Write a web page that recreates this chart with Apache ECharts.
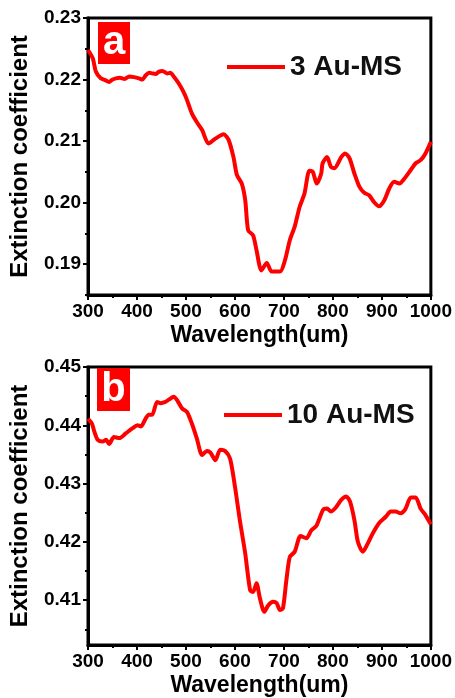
<!DOCTYPE html>
<html><head><meta charset="utf-8">
<script src="https://cdn.jsdelivr.net/npm/echarts@6/dist/echarts.min.js"></script>
<style>html,body{margin:0;padding:0;background:#fff}#c{width:455px;height:698px}</style>
</head><body><div id="c"></div>
<script>
const wavelengthA = [300,310,316,326,335,343,350,357,365,375,384,394,404,411,418,425,431,438,445,452,462,468,475,485,495,502,512,522,533,546,560,577,587,597,604,614,621,627,637,644,654,665,675,692,702,712,722,732,742,752,759,767,776,779,788,796,803,817,825,834,844,854,864,874,884,894,905,915,925,936,945,959,969,979,989,1000];
const valuesA = [0.2248,0.2234,0.2213,0.2202,0.2199,0.2196,0.2200,0.2202,0.2203,0.2201,0.2205,0.2204,0.2202,0.2200,0.2207,0.2211,0.2210,0.2209,0.2213,0.2214,0.2210,0.2211,0.2205,0.2194,0.2180,0.2167,0.2145,0.2131,0.2118,0.2096,0.2104,0.2111,0.2102,0.2074,0.2045,0.2031,0.2004,0.1955,0.1947,0.1923,0.1890,0.1902,0.1888,0.1888,0.1906,0.1939,0.1961,0.1993,0.2015,0.2052,0.2050,0.2031,0.2047,0.2064,0.2074,0.2058,0.2056,0.2074,0.2080,0.2072,0.2047,0.2026,0.2016,0.2012,0.2001,0.1994,0.2004,0.2023,0.2034,0.2031,0.2038,0.2053,0.2064,0.2069,0.2080,0.2099];
const wavelengthB = [300,308,313,320,330,337,343,353,364,377,391,401,408,418,424,431,441,448,458,465,475,482,492,502,512,522,533,543,550,560,570,580,590,600,610,621,631,637,644,651,660,668,678,685,692,698,705,712,722,734,746,756,766,780,788,796,806,817,827,835,844,851,861,871,881,894,908,918,928,938,948,959,969,979,989,1000];
const valuesB = [0.4411,0.4403,0.4389,0.4375,0.4372,0.4375,0.4368,0.4380,0.4378,0.4386,0.4395,0.4400,0.4398,0.4412,0.4418,0.4418,0.4440,0.4438,0.4440,0.4444,0.4449,0.4443,0.4429,0.4423,0.4403,0.4378,0.4349,0.4356,0.4353,0.4340,0.4358,0.4356,0.4343,0.4295,0.4237,0.4180,0.4117,0.4114,0.4129,0.4103,0.4080,0.4091,0.4097,0.4095,0.4083,0.4086,0.4134,0.4174,0.4183,0.4210,0.4206,0.4220,0.4227,0.4255,0.4257,0.4252,0.4259,0.4272,0.4278,0.4269,0.4237,0.4200,0.4183,0.4197,0.4214,0.4232,0.4243,0.4252,0.4252,0.4249,0.4256,0.4276,0.4276,0.4257,0.4246,0.4230];
const seriesNames = ['3 Au-MS', '10 Au-MS'];
const panelLetters = ['a', 'b'];
const yTicksA = [0.19, 0.20, 0.21, 0.22, 0.23];
const yMinorA = [0.185, 0.195, 0.205, 0.215, 0.225];
const yTicksB = [0.41, 0.42, 0.43, 0.44, 0.45];
const yMinorB = [0.405, 0.415, 0.425, 0.435, 0.445];
const xName = 'Wavelength(um)';
const yName = 'Extinction coefficient';

const FONT = '"Liberation Sans", Arial, sans-serif';
const RED = '#ff0000';
const chart = echarts.init(document.getElementById('c'));

function xAxisFor(gi) {
  return {
    type: 'value', gridIndex: gi, min: 300, max: 1000, interval: 100,
    name: xName, nameLocation: 'middle', nameGap: 29,
    nameTextStyle: { fontFamily: FONT, fontWeight: 'bold', fontSize: 23, color: '#000' },
    axisLine: { show: true, lineStyle: { color: '#000', width: 3 } },
    axisTick: { show: true, inside: false, length: 5, lineStyle: { color: '#000', width: 2 } },
    minorTick: { show: true, splitNumber: 2, length: 3, lineStyle: { color: '#000', width: 2 } },
    axisLabel: { fontFamily: FONT, fontWeight: 'bold', fontSize: 19, color: '#000', margin: 7,
      formatter: v => String(v) },
    splitLine: { show: false }
  };
}
function yAxisMain(gi, min, max, ticks) {
  return {
    type: 'value', gridIndex: gi, min: min, max: max,
    name: yName, nameLocation: 'middle', nameGap: 56,
    nameTextStyle: { fontFamily: FONT, fontWeight: 'bold', fontSize: 24, color: '#000' },
    axisLine: { show: true, lineStyle: { color: '#000', width: 3 } },
    axisTick: { show: true, length: 5, customValues: ticks, lineStyle: { color: '#000', width: 2 } },
    axisLabel: { fontFamily: FONT, fontWeight: 'bold', fontSize: 19, color: '#000', margin: 7,
      customValues: ticks, formatter: v => v.toFixed(2) },
    splitLine: { show: false }
  };
}
function yAxisMinor(gi, min, max, ticks) {
  return {
    type: 'value', gridIndex: gi, min: min, max: max, position: 'left',
    axisLine: { show: false },
    axisTick: { show: true, length: 3, customValues: ticks, lineStyle: { color: '#000', width: 2 } },
    axisLabel: { show: false },
    splitLine: { show: false }
  };
}
function lineSeries(name, xs, ys, gi, yi) {
  return {
    type: 'line', name: name, xAxisIndex: gi, yAxisIndex: yi,
    data: xs.map((x, i) => [x, ys[i]]),
    symbol: 'none', smooth: 0.25,
    lineStyle: { color: RED, width: 4 }, itemStyle: { color: RED },
    z: 3
  };
}
function legendFor(name, left, top) {
  return {
    data: [{ name: name, icon: 'rect' }], left: left, top: top, itemWidth: 58, itemHeight: 4,
    itemStyle: { color: RED },
    textStyle: { fontFamily: FONT, fontWeight: 'bold', fontSize: 28, color: '#111' },
    selectedMode: false
  };
}
function panelLabel(letter, x, y, w, h, mid) {
  return {
    type: 'group', children: [
      { type: 'rect', z: 10, shape: { x: x, y: y, width: w, height: h }, style: { fill: RED } },
      { type: 'text', z: 11, x: x + w / 2, y: mid, style: { text: letter, fill: '#fff',
        font: 'bold 40px ' + FONT, align: 'center', verticalAlign: 'middle' } }
    ]
  };
}

chart.setOption({
  backgroundColor: '#fff',
  animation: false,
  grid: [
    { left: 87, right: 23, top: 18, height: 277, show: true, borderColor: '#000', borderWidth: 3, backgroundColor: 'transparent' },
    { left: 87, right: 23, top: 367, height: 278, show: true, borderColor: '#000', borderWidth: 3, backgroundColor: 'transparent' }
  ],
  xAxis: [xAxisFor(0), xAxisFor(1)],
  yAxis: [
    yAxisMain(0, 0.185, 0.23, yTicksA), yAxisMinor(0, 0.185, 0.23, yMinorA),
    yAxisMain(1, 0.4023, 0.45, yTicksB), yAxisMinor(1, 0.4023, 0.45, yMinorB)
  ],
  legend: [legendFor(seriesNames[0], 222, 48), legendFor(seriesNames[1], 219, 396)],
  series: [
    lineSeries(seriesNames[0], wavelengthA, valuesA, 0, 0),
    lineSeries(seriesNames[1], wavelengthB, valuesB, 1, 2)
  ],
  graphic: [
    panelLabel(panelLetters[0], 98, 22, 32, 42, 43),
    panelLabel(panelLetters[1], 97, 368, 33, 43, 390)
  ]
});
</script></body></html>
